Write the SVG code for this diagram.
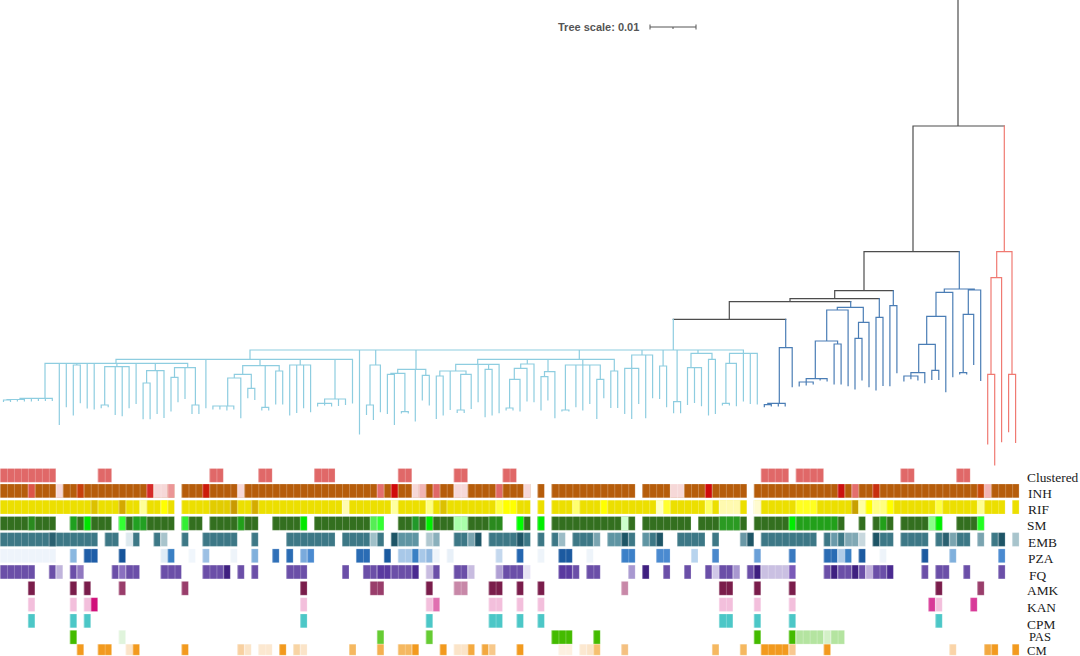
<svg xmlns="http://www.w3.org/2000/svg" width="1080" height="656" viewBox="0 0 1080 656">
<style>
.t{fill:none;stroke-width:1.2;stroke-linecap:square}
.bk{stroke:#4d4d4d}.bl{stroke:#4a7db5}.lb{stroke:#8ecde0}.rd{stroke:#f07a72}
.hm rect{stroke:#fff;stroke-opacity:.35;stroke-width:.6;vector-effect:non-scaling-stroke}
.lab{font-family:"Liberation Serif","Times New Roman",serif;font-size:13.4px;fill:#1a1a1a}
.sm2{font-size:12.6px}
.sc{font-family:"Liberation Sans",Arial,sans-serif;font-size:11px;font-weight:bold;fill:#555}
.cl{fill:#e06868}.inh{fill:#b65d0b}.rif{fill:#ecdf00}.sm{fill:#336f1f}.emb{fill:#3d7886}.fq{fill:#6b4fa8}
</style>
<defs>
<pattern id="gr" width="1" height="20" patternUnits="userSpaceOnUse"><rect width="0.1" height="20" fill="#fff" fill-opacity="0.35"/></pattern>
</defs>
<g id="scale-bar">
<text class="sc" x="558" y="30.5">Tree scale: 0.01</text>
<path d="M650,27H696M650,24.5V29.5M696,24.5V29.5M673,27V29" fill="none" stroke="#555" stroke-width="1"/>
</g>
<g id="connectors">
<g id="backbone"><path class="t bk" d="M958,0V126M913,126H1004.3M913,126V251.7M864,251.7H959.3M864,251.7V290.7M834.7,290.7H893.3M834.7,290.7V298.7M790,298.7H879.3M790,298.7V301.7M729.3,301.7H850.7M729.3,301.7V319.3M673.3,319.3H785.7"/></g>
<g id="clade-red"><path class="t rd" d="M1004.3,126V251.7M996.7,251.7H1012M996.7,251.7V277.7M991,277.7H1001.6M1001.6,277.7V441.7M991,277.7V374.3M987.7,374.3H994.7M987.7,374.3V444M994.7,374.3V465M1012,251.7V374.3M1008.6,374.3H1015.6M1008.6,374.3V431.7M1015.6,374.3V442.3"/></g>
<g id="clade-blue"><path class="t bl" d="M959.3,251.7V289M944.3,289H974.3M944.3,289V292.3M936,292.3H952.8M952.8,292.3V376.7M936,292.3V316.3M926.7,316.3H945.8M945.8,316.3V391.7M926.7,316.3V344.3M918.7,344.3H935.3M935.3,344.3V370.3M931.8,370.3H938.8M931.8,370.3V379.3M938.8,370.3V379.3M918.7,344.3V372.7M910.9,372.7H924.8M924.8,372.7V382.7M910.9,372.7V376M903.9,376H917.9M903.9,376V381M910.9,376V378.7M917.9,376V380M974.3,289V290M968.3,290H980.7M980.7,290V380.3M968.3,290V314.3M963.2,314.3H973.7M973.7,314.3V364.3M963.2,314.3V372.7M959.7,372.7H966.7M959.7,372.7V374M966.7,372.7V374
M893.3,290.7V305.7M889.9,305.7H896.9M889.9,305.7V385.7M896.9,305.7V372.7M879.3,298.7V317.3M876,317.3H883M876,317.3V390M883,317.3V385.3
M850.7,301.7V307.3M837.3,307.3H863.3M837.3,307.3V310M826.7,310H848.1M848.1,310V385.7M826.7,310V341M815.3,341H837.6M837.6,341V344M834.1,344H841.1M834.1,344V384M841.1,344V384M815.3,341V378.7M806.2,378.7H827.1M827.1,378.7V381M820.1,378.7V380M806.2,378.7V382M799.2,382H813.2M799.2,382V386M806.2,382V385M813.2,382V384M863.3,307.3V322.3M858.5,322.3H869M869,322.3V386.7M858.5,322.3V338.3M855,338.3H862M855,338.3V389M862,338.3V380
M785.7,319.3V347.7M779.3,347.7H792.2M792.2,347.7V386.7M779.3,347.7V403.3M767.8,403.3H785.2M785.2,403.3V406M778.3,403.3V406M767.8,403.3V404.7M764.3,404.7H771.3M764.3,404.7V406.7M771.3,404.7V406"/></g>
<g id="clade-lightblue"><path class="t lb" d="M673.3,319.3V350M250,350H743.4M250,350V359.3M116,359.3H352.5M116,359.3V363.3M45,363.3H187.7M45,363.3V398.3M20,398.3H52.3M31.4,398.3V401M38.4,398.3V400.5M45.4,398.3V400.5M52.3,398.3V400.5M20,398.3V399.5M7,399.5H24.4M24.4,399.5V401M17.4,399.5V401M7,399.5V400M3.5,400H10.5M3.5,400V401.5M10.5,400V401.5M59.3,363.3V424.3M66.3,363.3V406.7M76.8,363.3V365M73.3,365H80.3M73.3,365V415M80.3,365V402.7M87.2,363.3V408M94.2,363.3V409M116.9,363.3V366.7M104.7,366.7H129.1M104.7,366.7V405M101.2,405H108.2M101.2,405V407.7M108.2,405V406.7M115.2,366.7V414.3M122.2,366.7V415.7M129.1,366.7V407.7M136.1,363.3V403.3M155.3,363.3V370.7M146.6,370.7H164M146.6,370.7V383M143.1,383H150.1M143.1,383V418.7M150.1,383V418.7M157.1,370.7V413.3M164,370.7V417.3M187.7,363.3V367.7M174.5,367.7H195.4M174.5,367.7V377.3M171,377.3H178M171,377.3V411M178,377.3V401.7M185,367.7V398.3M195.4,367.7V405M192,405H198.9M192,405V413.3M198.9,405V413.3M205.9,359.3V407.7M260,359.3V365.7M242.7,365.7H279.2M242.7,365.7V374.3M234.3,374.3H251.3M234.3,374.3V378M227.7,378H240.8M227.7,378V406M212.9,406H233.8M212.9,406V409M219.9,406V409M226.9,406V410M233.8,406V409M240.8,378V417.7M251.3,374.3V388.3M247.8,388.3H254.8M247.8,388.3V397.7M254.8,388.3V399.3M265.2,365.7V407.3M261.8,407.3H268.7M261.8,407.3V410M268.7,407.3V410M279.2,365.7V371M275.7,371H282.7M275.7,371V404M282.7,371V404M300.2,359.3V365M289.7,365H310.6M289.7,365V415M296.7,365V412.3M303.6,365V407.7M310.6,365V411.7M335,359.3V399M324.6,399H345.5M324.6,399V403.3M317.6,403.3H331.6M317.6,403.3V406M324.6,403.3V405M331.6,403.3V406M338.5,399V405.5M345.5,399V404.5M352.5,359.3V403M359.5,350V434M375.7,350V365M370,365H380.4M370,365V405M366.5,405H373.4M366.5,405V414.3M373.4,405V419.3M380.4,365V411.7M416,350V369.3M397.7,369.3H425.8M397.7,369.3V373.3M390.9,373.3H404.9M390.9,373.3V374.3M387.4,374.3H394.4M387.4,374.3V413.3M394.4,374.3V424.3M404.9,373.3V411.7M401.4,411.7H408.3M401.4,411.7V413M408.3,411.7V413M415.3,369.3V421M425.8,369.3V375.3M422.3,375.3H429.3M422.3,375.3V400M429.3,375.3V405M579.3,350V359.3M477.7,359.3H614.3M477.7,359.3V364.3M455.7,364.3H499.1M455.7,364.3V371M439.8,371H466M439.8,371V376M436.3,376H443.2M436.3,376V418.3M443.2,376V415M450.2,371V409.3M466,371V374.3M460.7,374.3H471.2M460.7,374.3V410M457.2,410H464.2M457.2,410V412.5M464.2,410V412.5M471.2,374.3V408.3M478.1,364.3V401.7M488.6,364.3V369.3M485.1,369.3H492.1M485.1,369.3V416.7M492.1,369.3V415M499.1,364.3V412.7M527.3,359.3V364M520.7,364H534M520.7,364V368.3M514.3,368.3H527M514.3,368.3V379.3M509.6,379.3H520M509.6,379.3V408M506.1,408H513M506.1,408V410M513,408V410M520,379.3V411M527,368.3V401M534,364V401.7M548,359.3V371.7M544.5,371.7H554.9M544.5,371.7V376.7M541,376.7H547.9M541,376.7V410M547.9,376.7V400M554.9,371.7V417.7M582.8,359.3V365M565.4,365H600.3M565.4,365V410M561.9,410H568.9M561.9,410V411M568.9,410V411M575.9,365V406.7M582.8,365V410M589.8,365V403.3M600.3,365V379.3M596.8,379.3H603.8M596.8,379.3V418.3M603.8,379.3V397.7M614.3,359.3V371M610.8,371H617.7M610.8,371V407.3M617.7,371V407.3M642,350V355M631.7,355H652.6M631.7,355V368.3M624.7,368.3H638.7M624.7,368.3V413.3M631.7,368.3V418.3M638.7,368.3V403.3M645.7,355V417.7M652.6,355V397.7M663.1,350V366M659.6,366H666.6M659.6,366V398.3M666.6,366V406.7M677.1,350V401.7M673.6,401.7H680.6M673.6,401.7V412.7M680.6,401.7V412.7M698,350V353.3M691,353.3H712M691,353.3V367.7M687.5,367.7H701.5M687.5,367.7V404.3M694.5,367.7V402.3M701.5,367.7V405.7M712,353.3V359.3M708.5,359.3H715.4M708.5,359.3V415M715.4,359.3V413.3M743.4,350V353.3M729.5,353.3H757.3M729.5,353.3V363.3M725.9,363.3H736.4M725.9,363.3V403.3M722.4,403.3H729.4M722.4,403.3V405M729.4,403.3V405M736.4,363.3V405.7M743.4,353.3V401M750.3,353.3V403.3M757.3,353.3V404"/></g>
</g>
<g id="heatmap" class="hm" transform="scale(6.98,1)">
<g id="row-Clustered" class="cl" transform="translate(0,468.5)">
<rect x="0" width="8" height="13.8"/><rect x="14" width="2" height="13.8"/><rect x="30" width="2" height="13.8"/><rect x="37" width="2" height="13.8"/><rect x="45" width="3" height="13.8"/><rect x="57" width="2" height="13.8"/><rect x="65" width="2" height="13.8"/><rect x="72" width="2" height="13.8"/><rect x="109" width="4" height="13.8"/><rect x="114" width="4" height="13.8"/><rect x="129" width="2" height="13.8"/><rect x="137" width="2" height="13.8"/>
</g>
<g id="row-INH" class="inh" transform="translate(0,484)">
<rect x="0" width="25" height="13.8"/><rect x="26" width="50" height="13.8"/><rect x="77" width="1" height="13.8"/><rect x="79" width="12" height="13.8"/><rect x="92" width="15" height="13.8"/><rect x="108" width="38" height="13.8"/>
<rect x="4" width="1" height="13.8" fill="#dd5548"/><rect x="8" width="1" height="13.8" fill="#f6d8d8"/><rect x="11" width="1" height="13.8" fill="#c8400c"/><rect x="21" width="1" height="13.8" fill="#d62a28"/><rect x="22" width="2" height="13.8" fill="#f6d8d8"/><rect x="24" width="1" height="13.8" fill="#eb9696"/><rect x="29" width="1" height="13.8" fill="#cc1a0a"/><rect x="34" width="1" height="13.8" fill="#f6d8d8"/><rect x="54" width="1" height="13.8" fill="#e46e6e"/><rect x="56" width="1" height="13.8" fill="#d00a0a"/><rect x="59" width="1" height="13.8" fill="#f6d8d8"/><rect x="60" width="1" height="13.8" fill="#f0b4b4"/><rect x="62" width="1" height="13.8" fill="#e06868"/><rect x="65" width="2" height="13.8" fill="#f6d8d8"/><rect x="71" width="1" height="13.8" fill="#e06868"/><rect x="75" width="1" height="13.8" fill="#f6d8d8"/><rect x="96" width="2" height="13.8" fill="#f6d8d8"/><rect x="101" width="1" height="13.8" fill="#d00a0a"/><rect x="120" width="1" height="13.8" fill="#cc1010"/><rect x="122" width="1" height="13.8" fill="#e46e6e"/><rect x="125" width="1" height="13.8" fill="#c83010"/><rect x="140" width="1" height="13.8" fill="#c84a0a"/><rect x="141" width="1" height="13.8" fill="#f2b4b4"/>
</g>
<g id="row-RIF" class="rif" transform="translate(0,500.2)">
<rect x="0" width="25" height="13.8"/><rect x="26" width="50" height="13.8"/><rect x="77" width="1" height="13.8"/><rect x="79" width="28" height="13.8"/><rect x="108" width="36" height="13.8"/><rect x="145" width="1" height="13.8"/>
<rect x="13" width="1" height="13.8" fill="#dcc000"/><rect x="17" width="1" height="13.8" fill="#d4a800"/><rect x="20" width="1" height="13.8" fill="#ffff99"/><rect x="23" width="1" height="13.8" fill="#ffff00"/><rect x="30" width="3" height="13.8" fill="#e2cc00"/><rect x="33" width="1" height="13.8" fill="#c99a00"/><rect x="36" width="1" height="13.8" fill="#d4ac00"/><rect x="49" width="1" height="13.8" fill="#fffbb0"/><rect x="56" width="1" height="13.8" fill="#ffffa0"/><rect x="61" width="1" height="13.8" fill="#ffff80"/><rect x="63" width="1" height="13.8" fill="#dcc000"/><rect x="71" width="1" height="13.8" fill="#ffff40"/><rect x="72" width="2" height="13.8" fill="#ffff00"/><rect x="82" width="1" height="13.8" fill="#ffff70"/><rect x="86" width="1" height="13.8" fill="#ffff00"/><rect x="94" width="1" height="13.8" fill="#ffffc0"/><rect x="95" width="1" height="13.8" fill="#ffff30"/><rect x="101" width="1" height="13.8" fill="#ffff60"/><rect x="103" width="3" height="13.8" fill="#fffab0"/><rect x="108" width="1" height="13.8" fill="#fffbd0"/><rect x="114" width="3" height="13.8" fill="#ffff20"/><rect x="122" width="1" height="13.8" fill="#c8a000"/><rect x="123" width="1" height="13.8" fill="#ffffa0"/><rect x="124" width="1" height="13.8" fill="#ffff00"/><rect x="125" width="2" height="13.8" fill="#ffff80"/><rect x="127" width="1" height="13.8" fill="#ffff00"/><rect x="134" width="1" height="13.8" fill="#ffff40"/><rect x="140" width="1" height="13.8" fill="#ffff90"/>
</g>
<g id="row-SM" class="sm" transform="translate(0,516.5)">
<rect x="0" width="8" height="13.8"/><rect x="10" width="6" height="13.8"/><rect x="17" width="8" height="13.8"/><rect x="26" width="3" height="13.8"/><rect x="30" width="7" height="13.8"/><rect x="39" width="5" height="13.8"/><rect x="45" width="10" height="13.8"/><rect x="57" width="15" height="13.8"/><rect x="74" width="2" height="13.8"/><rect x="77" width="1" height="13.8"/><rect x="79" width="12" height="13.8"/><rect x="92" width="7" height="13.8"/><rect x="100" width="7" height="13.8"/><rect x="108" width="13" height="13.8"/><rect x="123" width="1" height="13.8"/><rect x="125" width="3" height="13.8"/><rect x="129" width="6" height="13.8"/><rect x="137" width="4" height="13.8"/>
<rect x="4" width="1" height="13.8" fill="#2a8a1e"/><rect x="10" width="1" height="13.8" fill="#1fa01f"/><rect x="12" width="1" height="13.8" fill="#00e400"/><rect x="17" width="1" height="13.8" fill="#33ff33"/><rect x="19" width="2" height="13.8" fill="#22a022"/><rect x="26" width="1" height="13.8" fill="#33ee33"/><rect x="34" width="1" height="13.8" fill="#22a01a"/><rect x="43" width="1" height="13.8" fill="#00e800"/><rect x="53" width="1" height="13.8" fill="#55ee55"/><rect x="54" width="1" height="13.8" fill="#33ff33"/><rect x="59" width="1" height="13.8" fill="#22992a"/><rect x="61" width="1" height="13.8" fill="#00ee00"/><rect x="65" width="2" height="13.8" fill="#aaffaa"/><rect x="70" width="2" height="13.8" fill="#2a8a1e"/><rect x="74" width="1" height="13.8" fill="#00ff00"/><rect x="77" width="1" height="13.8" fill="#00ee00"/><rect x="89" width="1" height="13.8" fill="#ccffcc"/><rect x="103" width="3" height="13.8" fill="#2a9a22"/><rect x="113" width="1" height="13.8" fill="#00ee00"/><rect x="114" width="6" height="13.8" fill="#22a01a"/><rect x="126" width="1" height="13.8" fill="#22a01a"/><rect x="133" width="1" height="13.8" fill="#88ff88"/><rect x="134" width="1" height="13.8" fill="#00ee00"/><rect x="140" width="1" height="13.8" fill="#22ff22"/>
</g>
<g id="row-EMB" class="emb" transform="translate(0,532.6)">
<rect x="0" width="14" height="13.8"/><rect x="15" width="2" height="13.8"/><rect x="19" width="1" height="13.8"/><rect x="22" width="1" height="13.8"/><rect x="26" width="1" height="13.8"/><rect x="29" width="5" height="13.8"/><rect x="36" width="1" height="13.8"/><rect x="41" width="7" height="13.8"/><rect x="49" width="4" height="13.8"/><rect x="54" width="1" height="13.8"/><rect x="65" width="2" height="13.8"/><rect x="70" width="6" height="13.8"/><rect x="77" width="1" height="13.8"/><rect x="79" width="1" height="13.8"/><rect x="82" width="3" height="13.8"/><rect x="90" width="1" height="13.8"/><rect x="93" width="1" height="13.8"/><rect x="97" width="4" height="13.8"/><rect x="102" width="1" height="13.8"/><rect x="109" width="8" height="13.8"/><rect x="118" width="1" height="13.8"/><rect x="120" width="1" height="13.8"/><rect x="126" width="2" height="13.8"/><rect x="129" width="4" height="13.8"/><rect x="134" width="1" height="13.8"/><rect x="137" width="2" height="13.8"/><rect x="142" width="1" height="13.8"/>
<rect x="7" width="1" height="13.8" fill="#2a6070"/><rect x="18" width="1" height="13.8" fill="#dde9ee"/><rect x="23" width="1" height="13.8" fill="#a8c4cc"/><rect x="53" width="1" height="13.8" fill="#a0c0c8"/><rect x="56" width="1" height="13.8" fill="#1e5566"/><rect x="57" width="3" height="13.8" fill="#5f95a3"/><rect x="61" width="1" height="13.8" fill="#b0c8d0"/><rect x="62" width="1" height="13.8" fill="#8ab0bc"/><rect x="67" width="1" height="13.8" fill="#7aa4b0"/><rect x="68" width="1" height="13.8" fill="#1e5566"/><rect x="74" width="1" height="13.8" fill="#1e5566"/><rect x="80" width="1" height="13.8" fill="#9cbcc6"/><rect x="85" width="1" height="13.8" fill="#7aa4b0"/><rect x="87" width="2" height="13.8" fill="#5f95a3"/><rect x="89" width="1" height="13.8" fill="#1e5566"/><rect x="92" width="1" height="13.8" fill="#5f95a3"/><rect x="94" width="1" height="13.8" fill="#1e5566"/><rect x="106" width="1" height="13.8" fill="#6a98a6"/><rect x="107" width="1" height="13.8" fill="#1e5566"/><rect x="119" width="1" height="13.8" fill="#6a9aaa"/><rect x="121" width="2" height="13.8" fill="#80a8b4"/><rect x="123" width="1" height="13.8" fill="#c8d8de"/><rect x="125" width="1" height="13.8" fill="#1e5566"/><rect x="135" width="1" height="13.8" fill="#2a6070"/><rect x="136" width="1" height="13.8" fill="#7aa4b0"/><rect x="140" width="1" height="13.8" fill="#7aa4b0"/><rect x="143" width="1" height="13.8" fill="#1e5566"/><rect x="145" width="1" height="13.8" fill="#a8c4cc"/>
</g>
<g id="row-PZA" transform="translate(0,548.9)">
<rect x="0" width="8" height="13.8" fill="#eef4fb"/><rect x="10" width="1" height="13.8" fill="#8ab8e0"/><rect x="12" width="2" height="13.8" fill="#1f5ea8"/><rect x="17" width="1" height="13.8" fill="#16549a"/><rect x="23" width="1" height="13.8" fill="#e0ecf6"/><rect x="24" width="1" height="13.8" fill="#3a80c4"/><rect x="27" width="1" height="13.8" fill="#f0f6fc"/><rect x="29" width="1" height="13.8" fill="#9cc0e4"/><rect x="33" width="1" height="13.8" fill="#eef4fa"/><rect x="36" width="1" height="13.8" fill="#80b0dc"/><rect x="39" width="1" height="13.8" fill="#3070b8"/><rect x="41" width="1" height="13.8" fill="#2a6cb4"/><rect x="43" width="1" height="13.8" fill="#7aaadc"/><rect x="44" width="1" height="13.8" fill="#4a8ad0"/><rect x="51" width="2" height="13.8" fill="#2a6cb4"/><rect x="55" width="1" height="13.8" fill="#1a5aa0"/><rect x="57" width="2" height="13.8" fill="#a8c8e8"/><rect x="59" width="1" height="13.8" fill="#3a80c4"/><rect x="60" width="1" height="13.8" fill="#a8c8e8"/><rect x="61" width="1" height="13.8" fill="#90b8e0"/><rect x="62" width="1" height="13.8" fill="#eef4fa"/><rect x="64" width="1" height="13.8" fill="#e8f0f8"/><rect x="71" width="1" height="13.8" fill="#c4d8ee"/><rect x="74" width="1" height="13.8" fill="#2466b0"/><rect x="77" width="1" height="13.8" fill="#eef4fa"/><rect x="80" width="2" height="13.8" fill="#1c5aa0"/><rect x="84" width="1" height="13.8" fill="#eef4fa"/><rect x="89" width="2" height="13.8" fill="#3c80c8"/><rect x="94" width="2" height="13.8" fill="#4a8ad0"/><rect x="99" width="1" height="13.8" fill="#b8d4ee"/><rect x="102" width="1" height="13.8" fill="#4a88cc"/><rect x="108" width="1" height="13.8" fill="#6aa0d8"/><rect x="113" width="1" height="13.8" fill="#3a7ac0"/><rect x="118" width="2" height="13.8" fill="#2a6cb4"/><rect x="120" width="1" height="13.8" fill="#b0cce8"/><rect x="121" width="1" height="13.8" fill="#3a80c4"/><rect x="123" width="1" height="13.8" fill="#1c5aa0"/><rect x="126" width="1" height="13.8" fill="#eef4fa"/><rect x="132" width="1" height="13.8" fill="#1c5aa0"/><rect x="136" width="1" height="13.8" fill="#80b0dc"/><rect x="143" width="1" height="13.8" fill="#4a8ad0"/>
</g>
<g id="row-FQ" class="fq" transform="translate(0,565.1)">
<rect x="0" width="5" height="13.8"/><rect x="7" width="1" height="13.8"/><rect x="8" width="1" height="13.8" fill="#c0b4dc"/><rect x="10" width="1" height="13.8"/><rect x="11" width="1" height="13.8" fill="#9078c0"/><rect x="16" width="1" height="13.8"/><rect x="17" width="1" height="13.8" fill="#8a70c0"/><rect x="18" width="2" height="13.8"/><rect x="23" width="3" height="13.8"/><rect x="29" width="3" height="13.8"/><rect x="32" width="1" height="13.8" fill="#3f2080"/><rect x="34" width="1" height="13.8"/><rect x="36" width="1" height="13.8"/><rect x="41" width="3" height="13.8"/><rect x="49" width="1" height="13.8"/><rect x="52" width="2" height="13.8"/><rect x="54" width="2" height="13.8" fill="#5a3aa0"/><rect x="56" width="3" height="13.8"/><rect x="59" width="1" height="13.8" fill="#4a2a90"/><rect x="61" width="1" height="13.8" fill="#c8bce0"/><rect x="62" width="1" height="13.8"/><rect x="65" width="2" height="13.8"/><rect x="67" width="1" height="13.8" fill="#c8bce0"/><rect x="71" width="1" height="13.8" fill="#b0a0d4"/><rect x="72" width="3" height="13.8"/><rect x="75" width="1" height="13.8" fill="#e8e4f4"/><rect x="80" width="2" height="13.8" fill="#5a3aa0"/><rect x="82" width="1" height="13.8"/><rect x="84" width="2" height="13.8"/><rect x="90" width="1" height="13.8" fill="#a898d0"/><rect x="92" width="1" height="13.8" fill="#3f2080"/><rect x="95" width="1" height="13.8"/><rect x="98" width="1" height="13.8"/><rect x="101" width="1" height="13.8"/><rect x="102" width="1" height="13.8" fill="#d0c8e8"/><rect x="103" width="2" height="13.8"/><rect x="105" width="1" height="13.8" fill="#a898d0"/><rect x="107" width="1" height="13.8"/><rect x="108" width="1" height="13.8" fill="#3f2080"/><rect x="109" width="4" height="13.8" fill="#cac0e2"/><rect x="113" width="1" height="13.8" fill="#7a5ab8"/><rect x="118" width="1" height="13.8"/><rect x="119" width="1" height="13.8" fill="#3f2080"/><rect x="120" width="2" height="13.8"/><rect x="122" width="1" height="13.8" fill="#3f2080"/><rect x="123" width="1" height="13.8"/><rect x="124" width="1" height="13.8" fill="#c0b0dc"/><rect x="125" width="2" height="13.8"/><rect x="127" width="1" height="13.8" fill="#4a2a90"/><rect x="132" width="1" height="13.8"/><rect x="134" width="2" height="13.8"/><rect x="138" width="1" height="13.8"/><rect x="143" width="1" height="13.8"/>
</g>
<g id="row-AMK" fill="#7a1d4b" transform="translate(0,581.4)">
<rect x="4" width="1" height="13.8"/><rect x="10" width="1" height="13.8"/><rect x="12" width="1" height="13.8"/><rect x="17" width="1" height="13.8" fill="#993d6b"/><rect x="26" width="1" height="13.8" fill="#993d6b"/><rect x="43" width="1" height="13.8"/><rect x="53" width="2" height="13.8" fill="#993d6b"/><rect x="61" width="1" height="13.8"/><rect x="65" width="2" height="13.8" fill="#c888a8"/><rect x="70" width="2" height="13.8"/><rect x="74" width="1" height="13.8"/><rect x="77" width="1" height="13.8"/><rect x="89" width="1" height="13.8" fill="#c888a8"/><rect x="103" width="2" height="13.8"/><rect x="108" width="1" height="13.8"/><rect x="113" width="1" height="13.8"/><rect x="134" width="1" height="13.8"/><rect x="140" width="1" height="13.8" fill="#993d6b"/>
</g>
<g id="row-KAN" fill="#f3bfdc" transform="translate(0,597.7)">
<rect x="4" width="1" height="13.8"/><rect x="10" width="1" height="13.8"/><rect x="12" width="1" height="13.8"/><rect x="13" width="1" height="13.8" fill="#d0107a"/><rect x="43" width="1" height="13.8"/><rect x="61" width="1" height="13.8"/><rect x="62" width="1" height="13.8" fill="#e070b0"/><rect x="70" width="2" height="13.8"/><rect x="74" width="1" height="13.8"/><rect x="77" width="1" height="13.8"/><rect x="103" width="2" height="13.8"/><rect x="108" width="1" height="13.8"/><rect x="113" width="1" height="13.8"/><rect x="133" width="1" height="13.8" fill="#d83a98"/><rect x="134" width="1" height="13.8"/><rect x="139" width="1" height="13.8" fill="#d83a98"/>
</g>
<g id="row-CPM" fill="#4cc7c7" transform="translate(0,614)">
<rect x="4" width="1" height="13.8"/><rect x="10" width="1" height="13.8"/><rect x="12" width="1" height="13.8"/><rect x="43" width="1" height="13.8"/><rect x="61" width="1" height="13.8"/><rect x="70" width="2" height="13.8"/><rect x="74" width="1" height="13.8"/><rect x="77" width="1" height="13.8"/><rect x="103" width="2" height="13.8"/><rect x="108" width="1" height="13.8"/><rect x="113" width="1" height="13.8"/><rect x="134" width="1" height="13.8"/>
</g>
<g id="row-PAS" fill="#44bb00" transform="translate(0,630.3)">
<rect x="10" width="1" height="13.8"/><rect x="17" width="1" height="13.8" fill="#e0f4dc"/><rect x="54" width="1" height="13.8" fill="#66cc33"/><rect x="61" width="1" height="13.8" fill="#66cc33"/><rect x="79" width="3" height="13.8"/><rect x="85" width="1" height="13.8"/><rect x="108" width="1" height="13.8"/><rect x="113" width="1" height="13.8"/><rect x="114" width="4" height="13.8" fill="#b4e4a0"/><rect x="118" width="1" height="13.8" fill="#d4f0c8"/><rect x="119" width="2" height="13.8" fill="#b4e4a0"/>
</g>
<g id="row-CM" fill="#f29a1e" transform="translate(0,644.2)">
<rect x="11" width="1" height="11"/><rect x="14" width="2" height="11"/><rect x="18" width="1" height="11" fill="#fbe4c8"/><rect x="19" width="1" height="11"/><rect x="26" width="1" height="11"/><rect x="34" width="1" height="11" fill="#f8d0a0"/><rect x="35" width="1" height="11" fill="#fbe4c8"/><rect x="37" width="2" height="11" fill="#fce8d0"/><rect x="40" width="1" height="11"/><rect x="42" width="1" height="11" fill="#f8d4a4"/><rect x="43" width="1" height="11" fill="#fbe4c8"/><rect x="50" width="1" height="11" fill="#f5b860"/><rect x="54" width="1" height="11" fill="#f4b050"/><rect x="57" width="2" height="11" fill="#f5b860"/><rect x="59" width="1" height="11"/><rect x="63" width="1" height="11"/><rect x="65" width="2" height="11" fill="#fbe4c8"/><rect x="67" width="1" height="11" fill="#f4aa40"/><rect x="69" width="1" height="11" fill="#f2a840"/><rect x="70" width="1" height="11" fill="#f7c88a"/><rect x="74" width="1" height="11"/><rect x="80" width="2" height="11" fill="#fdf0e0"/><rect x="83" width="1" height="11" fill="#fce8d0"/><rect x="84" width="1" height="11" fill="#fbe4c8"/><rect x="85" width="1" height="11" fill="#f5c070"/><rect x="89" width="1" height="11" fill="#f4c080"/><rect x="102" width="1" height="11" fill="#f5b860"/><rect x="106" width="1" height="11" fill="#f5b860"/><rect x="109" width="4" height="11"/><rect x="113" width="1" height="11" fill="#f8c890"/><rect x="118" width="1" height="11"/><rect x="136" width="1" height="11" fill="#fad4a8"/><rect x="141" width="1" height="11" fill="#f2a840"/><rect x="142" width="1" height="11"/><rect x="145" width="1" height="11"/>
</g>
<rect x="0" y="466" width="146" height="190" fill="url(#gr)" style="stroke:none"/>
</g>
<g id="row-labels" class="lab">
<text x="1027" y="481.5">Clustered</text>
<text x="1028" y="497.5">INH</text>
<text x="1028" y="513.8">RIF</text>
<text x="1027" y="530">SM</text>
<text x="1028" y="546.5">EMB</text>
<text x="1028" y="563">PZA</text>
<text x="1029" y="579.5">FQ</text>
<text x="1027" y="595.3">AMK</text>
<text x="1027" y="611.5">KAN</text>
<text x="1027" y="628.5">CPM</text>
<text class="sm2" x="1029" y="640.5">PAS</text>
<text class="sm2" x="1027" y="654.5">CM</text>
</g>
</svg>
